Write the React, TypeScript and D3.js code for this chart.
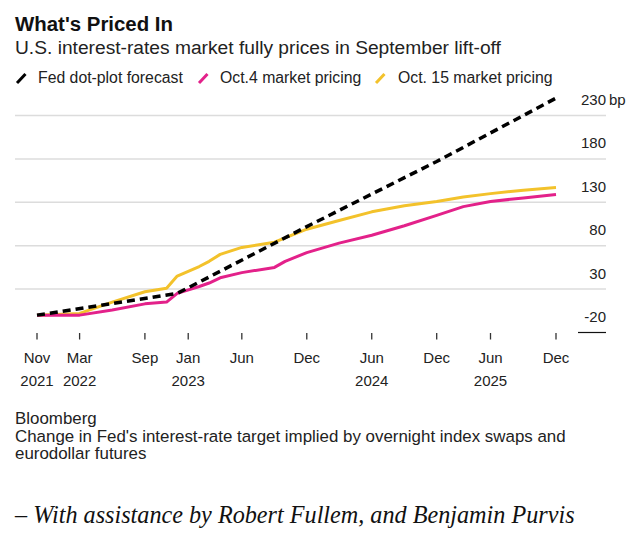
import React from "react";
import * as d3 from "d3";

const title = "What's Priced In";
const subtitle = "U.S. interest-rates market fully prices in September lift-off";
const seriesNames = ["Fed dot-plot forecast", "Oct.4 market pricing", "Oct. 15 market pricing"];
const seriesColors = ["#000000", "#e3218a", "#f3c22b"];

const dotDates = ["2021-11", "2022-12", "2023-12", "2024-12", "2025-12"];
const dotValues = [0, 25, 102, 177, 250];

const mktDates = [
  "2021-11", "2022-03", "2022-06", "2022-09", "2022-11", "2022-12", "2023-02", "2023-03",
  "2023-04", "2023-06", "2023-09", "2023-10", "2023-12", "2024-03", "2024-06", "2024-09",
  "2024-12", "2025-03", "2025-06", "2025-09", "2025-12",
];
const oct4Values = [0, 0, 6, 13, 15, 25, 33, 37, 43, 49, 55, 62, 72, 83, 92, 103, 115, 125, 131, 135, 139];
const oct15Values = [0, 2, 15, 27, 31, 45, 56, 62, 70, 78, 84, 89, 99, 109, 119, 126, 131, 136, 140, 144, 147];

const yTicks = [-20, 30, 80, 130, 180, 230];
const xTickDates = ["2021-11", "2022-03", "2022-09", "2023-01", "2023-06", "2023-12", "2024-06", "2024-12", "2025-06", "2025-12"];
const xTickMonths = ["Nov", "Mar", "Sep", "Jan", "Jun", "Dec", "Jun", "Dec", "Jun", "Dec"];
const xTickYears = ["2021", "2022", "", "2023", "", "", "2024", "", "2025", ""];

const sourceLines = [
  "Bloomberg",
  "Change in Fed's interest-rate target implied by overnight index swaps and",
  "eurodollar futures",
];
const creditLine = "\u2013 With assistance by Robert Fullem, and Benjamin Purvis";

const parse = d3.timeParse("%Y-%m");
const SANS = "'Liberation Sans', Arial, sans-serif";

export default function App() {
  const x = d3
    .scaleTime()
    .domain([parse("2021-11")!, parse("2024-12")!, parse("2025-06")!, parse("2025-12")!])
    .range([37, 436.7, 490.5, 556]);
  const y = d3.scaleLinear().domain([-20, 230]).range([332.5, 115.5]);

  const line = d3
    .line<[string, number]>()
    .x((d) => x(parse(d[0])!))
    .y((d) => y(d[1]));

  const dotData = dotDates.map((d, i) => [d, dotValues[i]] as [string, number]);
  const oct4Data = mktDates.map((d, i) => [d, oct4Values[i]] as [string, number]);
  const oct15Data = mktDates.map((d, i) => [d, oct15Values[i]] as [string, number]);

  const legendX = [17, 199, 376];
  const legendTextX = [38, 220, 398];

  return (
    <svg
      width={634}
      height={540}
      style={{ position: "absolute", left: 0, top: 0, background: "#fff", display: "block" }}
      fontFamily={SANS}
    >
      <rect x={0} y={0} width={634} height={540} fill="#fff" />
      <text
        x={15}
        y={30.5}
        fontSize={19.5}
        fontWeight="bold"
        fill="#111"
        textLength={158}
        lengthAdjust="spacingAndGlyphs"
      >
        {title}
      </text>
      <text x={15} y={54.3} fontSize={19.2} fill="#222">
        {subtitle}
      </text>
      {seriesNames.map((n, i) => (
        <g key={n}>
          <line
            x1={legendX[i]}
            y1={83}
            x2={legendX[i] + 8.5}
            y2={74}
            stroke={seriesColors[i]}
            strokeWidth={3}
          />
          <text x={legendTextX[i]} y={83.3} fontSize={15.8} fill="#222">
            {n}
          </text>
        </g>
      ))}

      {yTicks.slice(1).map((t) => (
        <line key={t} x1={15} x2={606} y1={y(t)} y2={y(t)} stroke="#dcdcdc" strokeWidth={1.5} />
      ))}
      <line x1={578} x2={606} y1={y(-20)} y2={y(-20)} stroke="#111" strokeWidth={1.2} />
      {yTicks.map((t) => (
        <text key={t} x={606} y={y(t) - 10.5} fontSize={15} fill="#222" textAnchor="end">
          {t}
        </text>
      ))}
      <text x={609} y={y(230) - 10.5} fontSize={15} fill="#222">
        bp
      </text>

      {xTickDates.map((d, i) => {
        const px = x(parse(d)!);
        return (
          <g key={d}>
            <line x1={px} x2={px} y1={333} y2={339.5} stroke="#333" strokeWidth={1.3} />
            <text x={px} y={363.3} fontSize={15} textAnchor="middle" fill="#222">
              {xTickMonths[i]}
            </text>
            {xTickYears[i] && (
              <text x={px} y={385.5} fontSize={15} textAnchor="middle" fill="#222">
                {xTickYears[i]}
              </text>
            )}
          </g>
        );
      })}

      <path d={line(oct15Data)!} fill="none" stroke={seriesColors[2]} strokeWidth={3} strokeLinejoin="round" />
      <path d={line(oct4Data)!} fill="none" stroke={seriesColors[1]} strokeWidth={3} strokeLinejoin="round" />
      <path
        d={line(dotData)!}
        fill="none"
        stroke={seriesColors[0]}
        strokeWidth={3.5}
        strokeDasharray="8 5"
      />

      {sourceLines.map((s, i) => (
        <text key={i} x={15} y={424 + i * 17.7} fontSize={16.9} fill="#222">
          {s}
        </text>
      ))}
      <text
        x={15}
        y={523.3}
        fontSize={24.2}
        fontStyle="italic"
        fontFamily="'Liberation Serif', 'Times New Roman', serif"
        fill="#111"
      >
        {creditLine}
      </text>
    </svg>
  );
}
